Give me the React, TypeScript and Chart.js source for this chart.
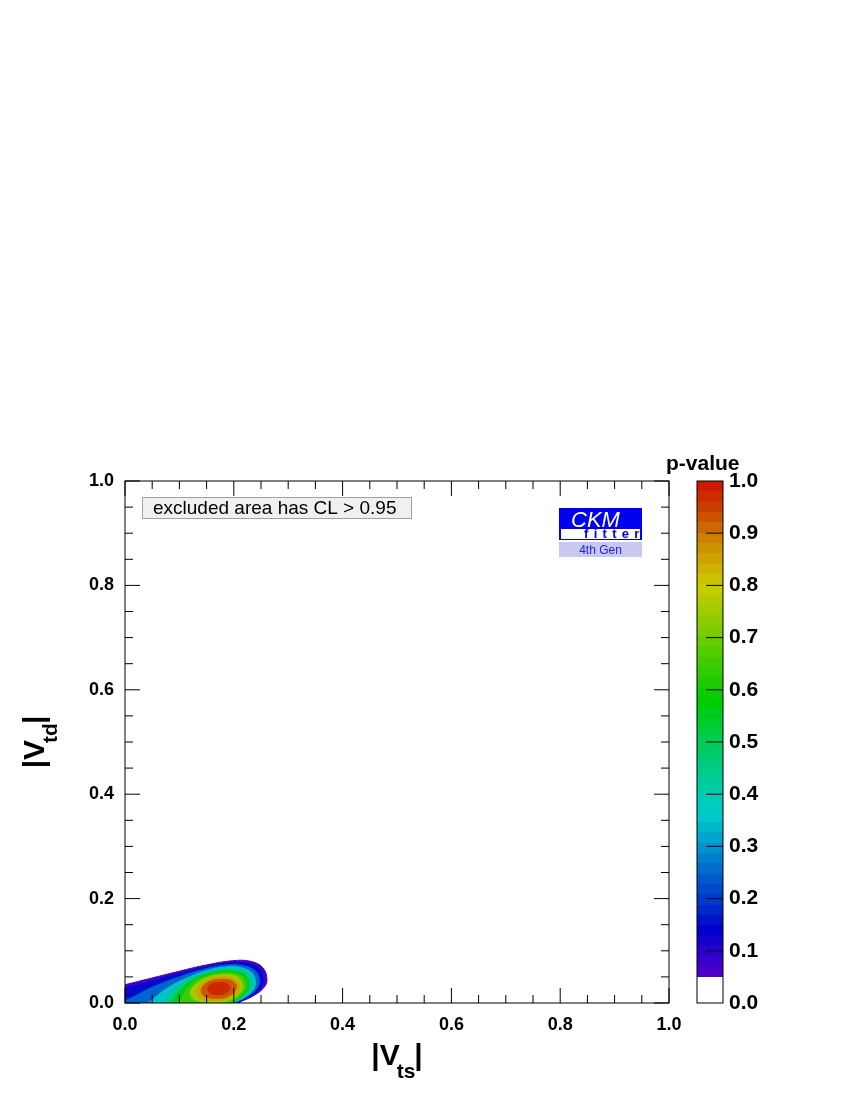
import React, { useEffect, useRef } from 'react';
import { Chart, registerables } from 'chart.js';

Chart.register(...registerables);

const FONT = '"Liberation Sans", Arial, Helvetica, sans-serif';

// ---------- axes ----------
const axisMajorTicks = [0, 0.2, 0.4, 0.6, 0.8, 1.0];
const axisMinorTicks = [0.05, 0.1, 0.15, 0.25, 0.3, 0.35, 0.45, 0.5, 0.55, 0.65, 0.7, 0.75, 0.85, 0.9, 0.95];
const colorbarTicks = [0.1, 0.2, 0.3, 0.4, 0.5, 0.6, 0.7, 0.8, 0.9];
const xTitleSub = 'ts';
const yTitleSub = 'td';
const colorbarTitle = 'p-value';
const legendText = 'excluded area has CL > 0.95';
const logoMain = 'CKM';
const logoSub = 'fitter';
const logoTag = '4th Gen';

// ---------- colour scale (p-value -> colour) ----------
const paletteStops = [0.05, 0.1, 0.14, 0.2, 0.25, 0.3, 0.36, 0.42, 0.5, 0.58, 0.65, 0.72, 0.8, 0.88, 0.94, 1.0];
const paletteRGB = [
  [85, 0, 204], [40, 0, 204], [0, 0, 204], [0, 60, 204], [0, 100, 204], [0, 150, 204],
  [0, 204, 204], [0, 204, 160], [0, 204, 85], [0, 204, 0], [60, 204, 0], [130, 204, 0],
  [204, 204, 0], [204, 140, 0], [204, 70, 0], [204, 17, 0],
];
const colorbarMin = 0.05;
const colorbarBands = 48;

// ---------- contours of the p-value in the (|Vts|, |Vtd|) plane ----------
const contourLevels = [0.05, 0.1, 0.2, 0.3, 0.4, 0.5, 0.6, 0.7, 0.8, 0.9, 0.95];

const contourP05 = [[0.14, -0.04], [0.2, -0.012], [0.209, 0.0], [0.233, 0.012], [0.254, 0.028], [0.261, 0.044], [0.253, 0.068], [0.23, 0.08], [0.198, 0.081], [0.15, 0.073], [0.1, 0.061], [0.05, 0.048], [0.0, 0.035], [-0.03, 0.027], [-0.03, -0.04], [0.14, -0.04]];
const contourP10 = [[0.14, -0.04], [0.197, -0.012], [0.206, 0.0], [0.228, 0.012], [0.247, 0.027], [0.254, 0.043], [0.247, 0.064], [0.226, 0.075], [0.196, 0.077], [0.15, 0.069], [0.1, 0.056], [0.05, 0.042], [0.0, 0.028], [-0.03, 0.019], [-0.03, -0.04], [0.14, -0.04]];
const contourP20 = [[0.14, -0.04], [0.195, -0.012], [0.203, 0.0], [0.224, 0.012], [0.241, 0.026], [0.247, 0.041], [0.24, 0.061], [0.219, 0.071], [0.19, 0.073], [0.15, 0.066], [0.1, 0.05], [0.05, 0.03], [0.02, 0.014], [0.0, 0.004], [-0.02, -0.01], [-0.02, -0.04], [0.14, -0.04]];
const contourP30 = [[0.14, -0.04], [0.193, -0.012], [0.201, 0.0], [0.22, 0.011], [0.235, 0.024], [0.24, 0.039], [0.233, 0.058], [0.212, 0.068], [0.185, 0.069], [0.15, 0.062], [0.11, 0.046], [0.08, 0.03], [0.055, 0.01], [0.04, -0.005], [0.03, -0.04], [0.14, -0.04]];
const contourP40 = [[0.14, -0.04], [0.191, -0.012], [0.199, 0.0], [0.216, 0.01], [0.23, 0.023], [0.234, 0.037], [0.228, 0.055], [0.208, 0.064], [0.182, 0.065], [0.15, 0.059], [0.12, 0.047], [0.098, 0.032], [0.08, 0.014], [0.068, -0.004], [0.06, -0.04], [0.14, -0.04]];
const contourP50 = [[0.14, -0.04], [0.189, -0.012], [0.197, 0.0], [0.212, 0.01], [0.224, 0.022], [0.228, 0.035], [0.222, 0.053], [0.204, 0.061], [0.18, 0.062], [0.152, 0.056], [0.126, 0.045], [0.106, 0.03], [0.092, 0.012], [0.083, -0.006], [0.08, -0.04], [0.14, -0.04]];
const contourP60 = [[0.14, -0.04], [0.187, -0.012], [0.195, 0.0], [0.209, 0.011], [0.219, 0.022], [0.223, 0.034], [0.217, 0.05], [0.2, 0.057], [0.177, 0.058], [0.152, 0.052], [0.13, 0.042], [0.115, 0.028], [0.106, 0.012], [0.1, -0.006], [0.1, -0.04], [0.14, -0.04]];
const contourP70 = [[0.217, 0.033], [0.211, 0.047], [0.195, 0.054], [0.174, 0.054], [0.152, 0.049], [0.134, 0.039], [0.122, 0.026], [0.122, 0.012], [0.135, 0.004], [0.158, 0.001], [0.182, 0.002], [0.201, 0.01], [0.213, 0.021], [0.217, 0.033]];
const contourP80 = [[0.211, 0.032], [0.205, 0.043], [0.19, 0.049], [0.171, 0.049], [0.152, 0.045], [0.139, 0.036], [0.131, 0.025], [0.133, 0.014], [0.144, 0.007], [0.162, 0.005], [0.184, 0.007], [0.2, 0.014], [0.209, 0.022], [0.211, 0.032]];
const contourP90 = [[0.205, 0.032], [0.199, 0.041], [0.186, 0.045], [0.17, 0.045], [0.155, 0.041], [0.144, 0.033], [0.14, 0.024], [0.144, 0.015], [0.156, 0.01], [0.172, 0.009], [0.188, 0.012], [0.2, 0.021], [0.205, 0.032]];
const contourP95 = [[0.193, 0.03], [0.189, 0.036], [0.18, 0.039], [0.168, 0.039], [0.158, 0.036], [0.153, 0.03], [0.153, 0.023], [0.158, 0.018], [0.168, 0.016], [0.18, 0.017], [0.189, 0.022], [0.193, 0.03]];

const contourShapes = [contourP05, contourP10, contourP20, contourP30, contourP40, contourP50, contourP60, contourP70, contourP80, contourP90, contourP95];

function paletteColor(v: number): string {
  if (v <= paletteStops[0]) return `rgb(${paletteRGB[0].join(',')})`;
  for (let i = 1; i < paletteStops.length; i++) {
    if (v <= paletteStops[i]) {
      const t = (v - paletteStops[i - 1]) / (paletteStops[i] - paletteStops[i - 1]);
      const a = paletteRGB[i - 1], b = paletteRGB[i];
      const c = a.map((ac, k) => Math.round(ac + (b[k] - ac) * t));
      return `rgb(${c.join(',')})`;
    }
  }
  return `rgb(${paletteRGB[paletteRGB.length - 1].join(',')})`;
}

function drawVTitle(ctx: CanvasRenderingContext2D, cx: number, baseline: number, sub: string) {
  const big = `bold 30px ${FONT}`;
  const small = `bold 21px ${FONT}`;
  ctx.font = big;
  const wBar = ctx.measureText('|').width;
  const wV = ctx.measureText('V').width;
  ctx.font = small;
  const wS = ctx.measureText(sub).width;
  const total = wBar * 2 + wV + wS - 4;
  let x = cx - total / 2;
  ctx.textAlign = 'left';
  ctx.textBaseline = 'alphabetic';
  ctx.font = big;
  ctx.fillText('|', x, baseline);
  x += wBar;
  ctx.fillText('V', x, baseline);
  x += wV - 3;
  ctx.font = small;
  ctx.fillText(sub, x, baseline + 13);
  x += wS - 1;
  ctx.font = big;
  ctx.fillText('|', x, baseline);
}

const decorPlugin = {
  id: 'decor',
  afterDraw(chart: any) {
    const ctx: CanvasRenderingContext2D = chart.ctx;
    const a = chart.chartArea;
    const xs = chart.scales.x;
    const ys = chart.scales.y;
    const cs = chart.scales.c;
    ctx.save();

    // ---- colour bar ----
    const barL = cs.left + 28;
    const barW = 26;
    const step = (1 - colorbarMin) / colorbarBands;
    for (let k = 0; k < colorbarBands; k++) {
      const lo = colorbarMin + k * step;
      const hi = lo + step;
      const yLo = Math.round(cs.getPixelForValue(lo));
      const yHi = Math.round(cs.getPixelForValue(hi));
      ctx.fillStyle = paletteColor((lo + hi) / 2);
      ctx.fillRect(barL, yHi, barW, yLo - yHi);
    }
    ctx.strokeStyle = '#000';
    ctx.lineWidth = 1;
    ctx.strokeRect(barL, cs.top, barW, cs.bottom - cs.top);
    ctx.beginPath();
    for (const v of colorbarTicks) {
      const y = cs.getPixelForValue(v);
      ctx.moveTo(barL + barW - 17, y);
      ctx.lineTo(barL + barW, y);
    }
    ctx.stroke();

    // ---- frame ----
    ctx.strokeRect(a.left, a.top, a.right - a.left, a.bottom - a.top);

    // ---- inward ticks on all four sides ----
    const tickSet = (vals: number[], len: number) => {
      ctx.beginPath();
      for (const v of vals) {
        const x = xs.getPixelForValue(v);
        ctx.moveTo(x, a.bottom); ctx.lineTo(x, a.bottom - len);
        ctx.moveTo(x, a.top); ctx.lineTo(x, a.top + len);
        const y = ys.getPixelForValue(v);
        ctx.moveTo(a.left, y); ctx.lineTo(a.left + len, y);
        ctx.moveTo(a.right, y); ctx.lineTo(a.right - len, y);
      }
      ctx.stroke();
    };
    tickSet(axisMajorTicks, 15);
    tickSet(axisMinorTicks, 8);

    // ---- axis titles ----
    ctx.fillStyle = '#000';
    drawVTitle(ctx, (a.left + a.right) / 2, a.bottom + 62, xTitleSub);
    ctx.save();
    ctx.translate(a.left - 81, (a.top + a.bottom) / 2);
    ctx.rotate(-Math.PI / 2);
    drawVTitle(ctx, 0, 0, yTitleSub);
    ctx.restore();

    // ---- colour bar title ----
    ctx.font = `bold 21px ${FONT}`;
    ctx.textAlign = 'left';
    ctx.textBaseline = 'alphabetic';
    ctx.fillText(colorbarTitle, barL - 31, a.top - 11);

    // ---- legend box ----
    ctx.fillStyle = '#f0f0f0';
    ctx.fillRect(142, 497, 270, 22);
    ctx.strokeStyle = '#a0a0a0';
    ctx.strokeRect(142.5, 497.5, 269, 21);
    ctx.fillStyle = '#000';
    ctx.font = `19px ${FONT}`;
    ctx.fillText(legendText, 153, 514);

    // ---- CKMfitter logo ----
    ctx.fillStyle = '#0000f0';
    ctx.fillRect(559, 508, 83, 32);
    ctx.fillStyle = '#ffffff';
    ctx.fillRect(561, 529, 79, 10);
    ctx.font = `italic 22px ${FONT}`;
    ctx.fillText(logoMain, 571, 527);
    ctx.fillStyle = '#0000f0';
    ctx.font = `bold 13px ${FONT}`;
    let fx = 584;
    for (const ch of logoSub) {
      ctx.fillText(ch, fx, 538);
      fx += ctx.measureText(ch).width + 5.3;
    }
    ctx.fillStyle = '#c8c8f0';
    ctx.fillRect(559, 542, 83, 15);
    ctx.fillStyle = '#2020ff';
    ctx.font = `12px ${FONT}`;
    ctx.textAlign = 'center';
    ctx.fillText(logoTag, 600.5, 554);

    ctx.restore();
  },
};

export default function App() {
  const ref = useRef<HTMLCanvasElement>(null);
  useEffect(() => {
    const canvas = ref.current;
    if (!canvas) return;
    const datasets = contourLevels
      .map((lvl, i) => {
        const next = i + 1 < contourLevels.length ? contourLevels[i + 1] : 1.0;
        const col = paletteColor((lvl + next) / 2);
        const pts = contourShapes[i].map(([x, y]) => ({ x, y }));
        // repeat the second point so the closed curve joins smoothly
        pts.push({ ...pts[1] });
        return {
          label: `p > ${lvl}`,
          data: pts,
          showLine: true,
          fill: 'shape',
          backgroundColor: col,
          borderColor: col,
          borderWidth: 1,
          pointRadius: 0,
          pointHoverRadius: 0,
          tension: 0.4,
          capBezierPoints: false,
          clip: 0,
        };
      })
      .reverse();

    const tickFont = { family: FONT, size: 18, weight: 'bold' as const };
    const chart = new Chart(canvas, {
      type: 'scatter',
      data: { datasets: datasets as any },
      options: {
        responsive: false,
        animation: false,
        devicePixelRatio: 1,
        events: [],
        layout: { padding: { top: 481, left: 0, right: 0, bottom: 0 } },
        elements: { line: { capBezierPoints: false } },
        plugins: { legend: { display: false }, tooltip: { enabled: false }, title: { display: false } },
        scales: {
          x: {
            type: 'linear', position: 'bottom', min: 0, max: 1,
            ticks: { stepSize: 0.2, autoSkip: false, maxRotation: 0, padding: 11, color: '#000', font: tickFont, callback: (v: any) => Number(v).toFixed(1) },
            grid: { display: false, drawTicks: false },
            border: { display: false },
            afterFit: (s: any) => { s.height = 97; },
          },
          y: {
            type: 'linear', position: 'left', min: 0, max: 1,
            ticks: { stepSize: 0.2, autoSkip: false, padding: 11, color: '#000', font: tickFont, callback: (v: any) => Number(v).toFixed(1) },
            grid: { display: false, drawTicks: false },
            border: { display: false },
            afterFit: (s: any) => { s.width = 125; },
          },
          c: {
            type: 'linear', axis: 'y', position: 'right', min: 0, max: 1,
            ticks: { stepSize: 0.1, autoSkip: false, padding: 60, color: '#000', font: { family: FONT, size: 21, weight: 'bold' }, callback: (v: any) => Number(v).toFixed(1) },
            grid: { display: false, drawTicks: false },
            border: { display: false },
            afterFit: (s: any) => { s.width = 181; },
          },
        } as any,
      },
      plugins: [decorPlugin],
    });
    return () => chart.destroy();
  }, []);

  return (
    <div style={{ position: 'absolute', left: 0, top: 0, width: 850, height: 1100, background: '#fff' }}>
      <canvas ref={ref} width={850} height={1100} style={{ width: 850, height: 1100, display: 'block' }} />
    </div>
  );
}
